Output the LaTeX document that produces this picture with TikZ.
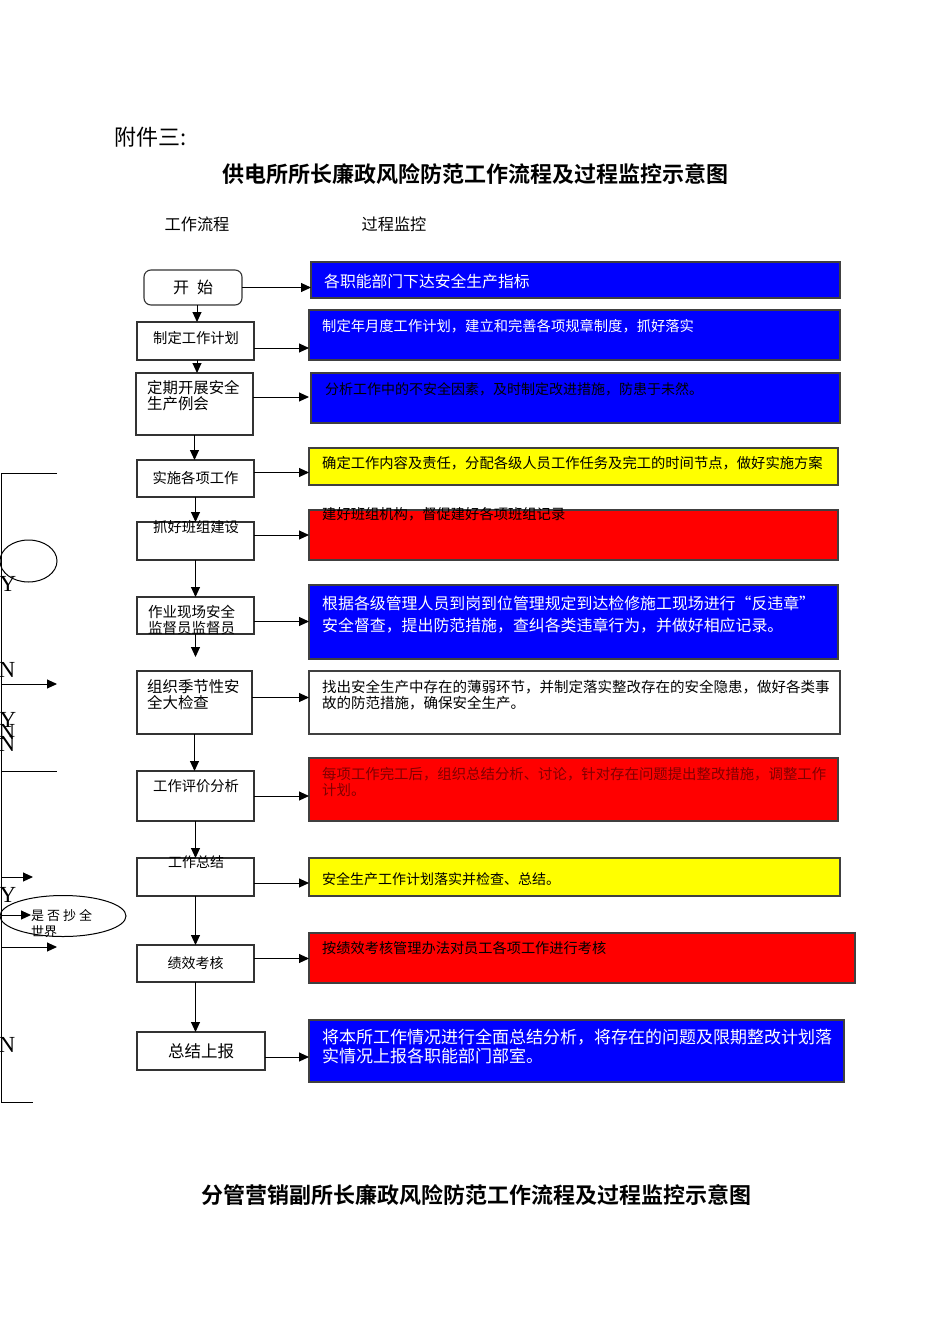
\documentclass[tikz,border=0pt]{standalone}
\usepackage{fontspec}
\setmainfont{Noto Sans CJK SC}[BoldFont={Noto Sans CJK SC Bold}]
\newfontfamily\latinserif{Liberation Serif}
\usepackage{tikz}
\usetikzlibrary{arrows.meta,positioning,shapes.geometric}
\definecolor{monblue}{RGB}{0,0,255}
\definecolor{monyellow}{RGB}{255,255,0}
\definecolor{monred}{RGB}{255,0,0}
\definecolor{textred}{RGB}{128,0,0}
\tikzset{>={Triangle[length=10pt,width=9pt]}}
\tikzset{flow/.style={draw=black!80,line width=1.1pt,inner sep=0pt,outer sep=0pt,anchor=north west}}
\tikzset{mon/.style={flow,draw=black!75}}
\tikzset{arr/.style={->,line width=1pt}}
\tikzset{lbl/.style={inner sep=0pt,anchor=west,align=left}}
\tikzset{ftxt/.style={font=\fontsize{14.3}{16}\selectfont}}
\tikzset{yn/.style={inner sep=0pt,font=\latinserif\fontsize{23}{23}\selectfont}}

\begin{document}
\begin{tikzpicture}[x=1pt,y=-1pt]
    \useasboundingbox (0,0) rectangle (950,1344);

    % headings
    \node [lbl,font=\fontsize{22}{24}\selectfont] (annex) at (114,137) {附件三:};
    \node [font=\bfseries\fontsize{22}{24}\selectfont] (title) at (475,174) {供电所所长廉政风险防范工作流程及过程监控示意图};
    \node [font=\fontsize{16.2}{18}\selectfont] (hflow) at (197,224) {工作流程};
    \node [font=\fontsize{16.2}{18}\selectfont] (hmon) at (394,224) {过程监控};
    \node [font=\bfseries\fontsize{22}{24}\selectfont] (title2) at (476,1195) {分管营销副所长廉政风险防范工作流程及过程监控示意图};

    % work flow
    \node [flow,rounded corners=7pt,minimum width=98,minimum height=35,font=\fontsize{16}{18}\selectfont] (start) at (144,270) {开\hspace{0.5em}始};
    \node [flow,minimum width=117,minimum height=38] (plan) at (137,322) {};
    \node [lbl,ftxt] (plan-t) at (153,338) {制定工作计划};
    \node [flow,minimum width=117,minimum height=62] (meet) at (136,373) {};
    \node [lbl,font=\fontsize{15.4}{16}\selectfont] (meet-t) at (147,396) {定期开展安全\\生产例会};
    \node [flow,minimum width=117,minimum height=37,ftxt] (impl) at (137,460) {实施各项工作};
    \node [flow,minimum width=117,minimum height=38] (team) at (137,522) {};
    \node [lbl,ftxt] (team-t) at (153,527) {抓好班组建设};
    \node [flow,minimum width=117,minimum height=37] (site) at (137,597) {};
    \node [lbl,font=\fontsize{14.5}{16}\selectfont] (site-t) at (148,620) {作业现场安全\\监督员监督员};
    \node [flow,minimum width=115,minimum height=63] (check) at (137,671) {};
    \node [lbl,font=\fontsize{15.4}{16}\selectfont] (check-t) at (147,695) {组织季节性安\\全大检查};
    \node [flow,minimum width=117,minimum height=50] (eval) at (137,771) {};
    \node [lbl,ftxt] (eval-t) at (153,786) {工作评价分析};
    \node [flow,minimum width=117,minimum height=38] (sum) at (137,858) {};
    \node [lbl,font=\fontsize{14}{16}\selectfont] (sum-t) at (168,862) {工作总结};
    \node [flow,minimum width=117,minimum height=37,font=\fontsize{14}{16}\selectfont] (kpi) at (137,945) {绩效考核};
    \node [flow,minimum width=128,minimum height=38,font=\fontsize{16.5}{18}\selectfont] (report) at (137,1032) {总结上报};

    \draw [arr] ([xshift=4pt]start.south) -- ([xshift=4pt]start.south |- plan.north);
    \draw [arr] ([xshift=1.5pt]plan.south) -- ([xshift=1.5pt]plan.south |- meet.north);
    \draw [arr] (meet.south) -- (meet.south |- impl.north);
    \draw [arr] (impl.south) -- (team.north);
    \draw [arr] (team.south) -- (site.north);
    \draw [arr] (site.south) -- (site.south |- 0,657);
    \draw [arr] (check.south) -- (check.south |- eval.north);
    \draw [arr] (eval.south) -- (sum.north);
    \draw [arr] (sum.south) -- (kpi.north);
    \draw [arr] (kpi.south) -- (kpi.south |- report.north);

    % process monitoring
    \node [mon,fill=monblue,minimum width=529,minimum height=36] (m1) at (311,262) {};
    \node [lbl,text=white,font=\fontsize{15.8}{18}\selectfont] (m1-t) at (324,281) {各职能部门下达安全生产指标};
    \node [mon,fill=monblue,minimum width=531,minimum height=50] (m2) at (309,310) {};
    \node [lbl,text=white,ftxt] (m2-t) at (322,326) {制定年月度工作计划，建立和完善各项规章制度，抓好落实};
    \node [mon,fill=monblue,minimum width=529,minimum height=50] (m3) at (311,373) {};
    \node [lbl,text=black,font=\fontsize{14}{16}\selectfont] (m3-t) at (325,389) {分析工作中的不安全因素，及时制定改进措施，防患于未然。};
    \node [mon,fill=monyellow,minimum width=529,minimum height=37] (m4) at (309,448) {};
    \node [lbl,font=\fontsize{14.3}{16}\selectfont] (m4-t) at (322,463) {确定工作内容及责任，分配各级人员工作任务及完工的时间节点，做好实施方案};
    \node [mon,fill=monred,minimum width=529,minimum height=50] (m5) at (309,510) {};
    \node [lbl,ftxt] (m5-t) at (322,514) {建好班组机构，督促建好各项班组记录};
    \node [mon,fill=monblue,minimum width=529,minimum height=74] (m6) at (309,585) {};
    \node [lbl,text=white,font=\fontsize{15.9}{22}\selectfont] (m6-t) at (322,615) {根据各级管理人员到岗到位管理规定到达检修施工现场进行“反违章”\\安全督查，提出防范措施，查纠各类违章行为，并做好相应记录。};
    \node [mon,minimum width=531,minimum height=63] (m7) at (309,671) {};
    \node [lbl,font=\fontsize{14.5}{16}\selectfont] (m7-t) at (322,695) {找出安全生产中存在的薄弱环节，并制定落实整改存在的安全隐患，做好各类事\\故的防范措施，确保安全生产。};
    \node [mon,fill=monred,minimum width=529,minimum height=63] (m8) at (309,758) {};
    \node [lbl,text=textred,font=\fontsize{14.4}{16}\selectfont] (m8-t) at (322,782) {每项工作完工后，组织总结分析、讨论，针对存在问题提出整改措施，调整工作\\计划。};
    \node [mon,fill=monyellow,minimum width=531,minimum height=38] (m9) at (309,858) {};
    \node [lbl,font=\fontsize{14}{16}\selectfont] (m9-t) at (322,879) {安全生产工作计划落实并检查、总结。};
    \node [mon,fill=monred,minimum width=546,minimum height=50] (m10) at (309,933) {};
    \node [lbl,font=\fontsize{14.2}{16}\selectfont] (m10-t) at (322,948) {按绩效考核管理办法对员工各项工作进行考核};
    \node [mon,fill=monblue,minimum width=535,minimum height=62] (m11) at (309,1020) {};
    \node [lbl,text=white,font=\fontsize{17}{19}\selectfont] (m11-t) at (322,1046.5) {将本所工作情况进行全面总结分析，将存在的问题及限期整改计划落\\实情况上报各职能部门部室。};

    \draw [arr] (start.east) -- (start.east -| m1.west);
    \draw [arr] ([yshift=-7pt]plan.east) -- ([yshift=-7pt]plan.east -| m2.west);
    \draw [arr] ([yshift=7pt]meet.east) -- ([yshift=7pt]meet.east -| m2.west);
    \draw [arr] ([yshift=6pt]impl.east) -- ([yshift=6pt]impl.east -| m4.west);
    \draw [arr] ([yshift=6pt]team.east) -- ([yshift=6pt]team.east -| m5.west);
    \draw [arr] ([yshift=-6pt]site.east) -- ([yshift=-6pt]site.east -| m6.west);
    \draw [arr] ([yshift=5pt]check.east) -- ([yshift=5pt]check.east -| m7.west);
    \draw [arr] (eval.east) -- (eval.east -| m8.west);
    \draw [arr] ([yshift=-6pt]sum.east) -- ([yshift=-6pt]sum.east -| m9.west);
    \draw [arr] ([yshift=5pt]kpi.east) -- ([yshift=5pt]kpi.east -| m10.west);
    \draw [arr] ([yshift=-6pt]report.east) -- ([yshift=-6pt]report.east -| m11.west);

    % cut-off loop on the left
    \coordinate (lt) at (57,473);
    \coordinate (lb) at (33,1102);
    \draw [line width=1pt] (lt) -- (1,473) -- (1,1102) -- (lb);
    \node [draw,line width=1pt,ellipse,minimum width=57,minimum height=42,inner sep=0pt] (loopa) at (28.5,561) {};
    \node [yn] (y1) at (8,584) {Y};
    \node [yn] (n1) at (7,670) {N};
    \coordinate (a1s) at (1,684);
    \coordinate (a1e) at (57,684);
    \draw [arr] (a1s) -- (a1e);
    \node [yn] (y2) at (8,720) {Y};
    \node [yn] (n2) at (7,732) {N};
    \node [yn] (n3) at (7,744) {N};
    \coordinate (l2s) at (1,771);
    \coordinate (l2e) at (57,771);
    \draw [line width=1pt] (l2s) -- (l2e);
    \coordinate (a2s) at (1,877);
    \coordinate (a2e) at (33,877);
    \draw [arr] (a2s) -- (a2e);
    \node [yn] (y3) at (8,895) {Y};
    \node [draw,line width=1pt,ellipse,minimum width=126,minimum height=41,inner sep=0pt] (loopb) at (63,916) {};
    \node [lbl,font=\fontsize{13}{16}\selectfont] (loopb-t) at (31,924) {是\hspace{3pt}否\hspace{3pt}抄\hspace{3pt}全\\世界};
    \coordinate (a3s) at (1,915);
    \draw [arr] (a3s) -- (loopb-t.west |- a3s);
    \coordinate (a4s) at (1,947);
    \coordinate (a4e) at (57,947);
    \draw [arr] (a4s) -- (a4e);
    \node [yn] (n4) at (7,1045) {N};
\end{tikzpicture}
\end{document}
